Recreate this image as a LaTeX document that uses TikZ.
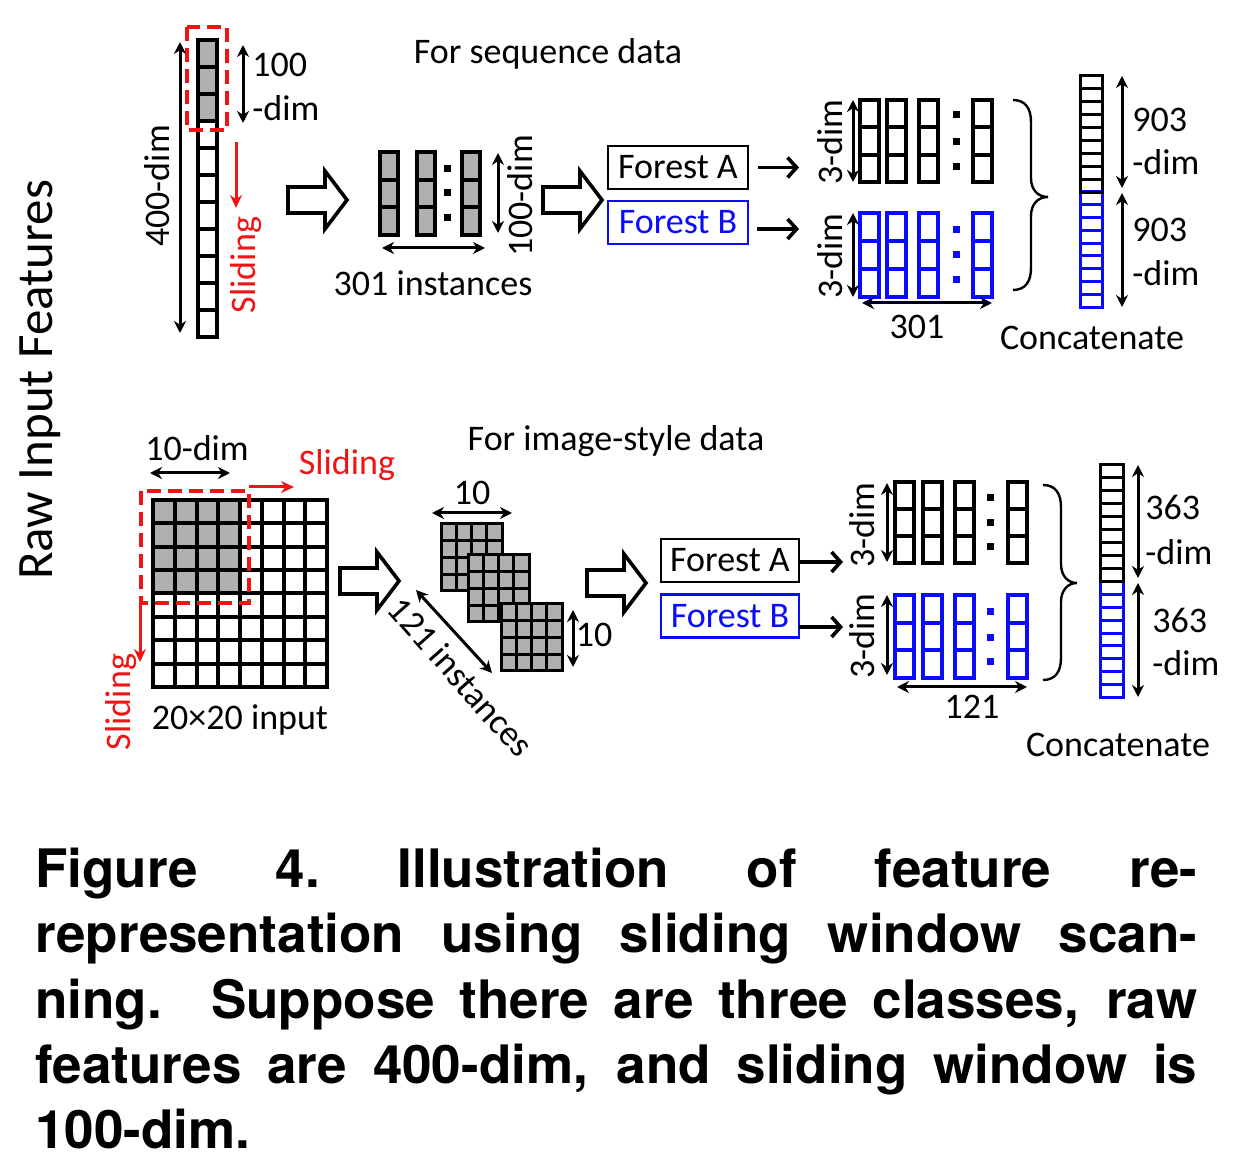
\documentclass[tikz,border=0pt]{standalone}
\usepackage{fontspec}
\setmainfont{Carlito}
\newfontfamily\capfont{TeX Gyre Heros}
\usetikzlibrary{arrows.meta}
\definecolor{cellgray}{RGB}{176,176,176}
\definecolor{fblue}{RGB}{10,10,255}
\definecolor{sred}{RGB}{240,20,20}
\newcommand\smallgrid[2]{%
  \fill[cellgray] (#1,#2) rectangle ++(61,67);
  \foreach \i in {0,...,4}{%
    \draw[line width=1.5pt] ({#1+\i*15.25},#2) -- ++(0,67);
    \draw[line width=1.5pt] (#1,{#2+\i*16.75}) -- ++(61,0);
  }
  \draw[line width=1.5pt] (#1,#2) rectangle ++(61,67);
}
\begin{document}
\begin{tikzpicture}[x=0.5pt,y=-0.5pt,
  every node/.style={inner sep=0pt, font=\fontsize{18}{22}\selectfont},
  cellline/.style={line width=2pt},
  thinline/.style={line width=1.5pt},
  dimarrow/.style={line width=1.5pt, {Stealth[length=6pt,width=6pt]}-{Stealth[length=6pt,width=6pt]}},
  slidearrow/.style={draw=sred, line width=1.5pt, -{Stealth[length=6.5pt,width=6pt]}},
  forestarrow/.style={line width=1.8pt, -{Straight Barb[length=4.5pt,width=10pt]}},
  redbox/.style={draw=sred, line width=2.2pt, dash pattern=on 7pt off 3.5pt},
  forestbox/.style={draw, line width=1.4pt, minimum height=21.5pt},
  bracestyle/.style={line width=1.2pt},
  redtext/.style={text=sred},
  capstyle/.style={anchor=base west, font=\capfont\bfseries\fontsize{26.5}{32.5}\selectfont},
  harrow/.pic={\draw[line width=1.8pt, fill=white] (0,-13) -- (37,-13) -- (37,-29) -- (59,0) -- (37,29) -- (37,13) -- (0,13) -- cycle;}
]
\useasboundingbox (0,0) rectangle (1244,1176);

% ---------------- left label
\node[rotate=90, font=\fontsize{25.5}{30}\selectfont] (raw) at (40,380) {Raw Input Features};

% ================= TOP: sequence data
\node (seqtitle) at (548,54) {For sequence data};

% strip
\foreach \k in {0,1,2}{\draw[cellline, fill=cellgray] (198,{40+\k*27}) rectangle ++(19,27);}
\foreach \k in {3,...,10}{\draw[cellline] (198,{40+\k*27}) rectangle ++(19,27);}
\draw[redbox] (187,27) rectangle (227,130);
\draw[dimarrow] (180,42) -- (180,333);
\node[rotate=90] (d400) at (157,186) {400-dim};
\draw[dimarrow] (243,45) -- (243,123);
\node[anchor=west] (d100a) at (252,65) {100};
\node[anchor=west] (d100b) at (252,108) {-dim};
\draw[slidearrow] (236,142) -- (236,208);
\node[rotate=90, redtext] (slide1) at (246,265) {Sliding};

\pic at (288,200) {harrow};

% instances
\foreach \x in {380,417,462}{\foreach \k in {0,1,2}{\draw[cellline, fill=cellgray] (\x,{152+\k*27.67}) rectangle ++(18,27.67);}}
\foreach \y in {169,193,218}{\fill ({447-3.5},{\y-3.5}) rectangle ++(7,7);}
\draw[dimarrow] (498,153) -- (498,233);
\node[rotate=90] (d100c) at (520,196) {100-dim};
\draw[dimarrow] (382,248) -- (485,248);
\node (inst301) at (433,283) {301 instances};

\pic at (543,200) {harrow};

% forests
\node[forestbox, minimum width=70pt] (fa) at (678,167.5) {Forest A};
\node[forestbox, minimum width=70pt, draw=fblue, text=fblue] (fb) at (678,222.5) {Forest B};
\coordinate (oA) at (799,167.5);
\coordinate (oB) at (799,229);
\draw[forestarrow, shorten <=4.5pt] (fa.east) -- (oA);
\draw[forestarrow] (757,229) -- (oB);

% outputs A
\foreach \x in {860,887,919,973}{\foreach \k in {0,1,2}{\draw[cellline] (\x,{100+\k*27.3}) rectangle ++(18.5,27.3);}}
\foreach \y in {115,142,167}{\fill ({956-3.5},{\y-3.5}) rectangle ++(7,7);}
\draw[dimarrow] (853,100) -- (853,182);
\node[rotate=90] (dA) at (830,142) {3-dim};
% outputs B
\foreach \x in {860,887,919,973}{\foreach \k in {0,1,2}{\draw[cellline, fblue] (\x,{213+\k*28}) rectangle ++(18.5,28);}}
\foreach \y in {230,255,280}{\fill[fblue] ({956-3.5},{\y-3.5}) rectangle ++(7,7);}
\draw[dimarrow] (853,213) -- (853,297);
\node[rotate=90] (dB) at (830,256) {3-dim};
\draw[dimarrow] (862,303) -- (992,303);
\node (n301) at (917,327) {301};

% brace
\draw[bracestyle] (1013,100) .. controls (1025,100) and (1031,108) .. (1031,122) -- (1031,178) .. controls (1031,190) and (1038,197) .. (1048,197) .. controls (1038,197) and (1031,204) .. (1031,216) -- (1031,268) .. controls (1031,282) and (1025,290) .. (1013,290);

% concat strip
\foreach \k in {0,...,8}{\draw[thinline, fblue] (1080,{192+\k*12.78}) rectangle ++(22,12.78);}
\foreach \k in {0,...,8}{\draw[thinline] (1080,{76+\k*12.89}) rectangle ++(22,12.89);}
\draw[dimarrow] (1122,76) -- (1122,188);
\draw[dimarrow] (1122,193) -- (1122,307);
\node[anchor=west] (c1a) at (1132,120) {903};
\node[anchor=west] (c1b) at (1132,162) {-dim};
\node[anchor=west] (c1c) at (1132,230) {903};
\node[anchor=west] (c1d) at (1132,273) {-dim};
\node (cat1) at (1092,338) {Concatenate};

% ================= BOTTOM: image-style data
\node (imgtitle) at (616,441) {For image-style data};

% grid
\fill[cellgray] (153,500) rectangle (240,593.5);
\foreach \i in {0,...,8}{%
  \draw[cellline] ({153+\i*21.75},500) -- ({153+\i*21.75},687);
  \draw[cellline] (153,{500+\i*23.375}) -- (327,{500+\i*23.375});
}
\draw[cellline] (153,500) rectangle (327,687);
\draw[redbox] (141,491) rectangle (249,603);
\draw[dimarrow] (150,473) -- (230,473);
\node (d10dim) at (197,448) {10-dim};
\draw[slidearrow] (249,487) -- (294,487);
\node[redtext] (slide2) at (347,465) {Sliding};
\draw[slidearrow] (140,603) -- (140,662);
\node[rotate=90, redtext] (slide3) at (121,702) {Sliding};
\node (inp) at (240,720) {20×20 input};

\pic at (340,581) {harrow};

% stacked instances
\smallgrid{441}{524}
\smallgrid{468}{555}
\smallgrid{501}{604}
\draw[dimarrow] (432,513) -- (512,513);
\node (n10a) at (472,493) {10};
\draw[dimarrow] (573,610) -- (573,667);
\node (n10b) at (594,635) {10};
\draw[dimarrow] (416,590) -- (492,673);
\node[rotate=-48.5] (inst121) at (461,677) {121 instances};

\pic at (587,583) {harrow};

% forests
\node[forestbox, minimum width=69pt] (fa2) at (730,560.5) {Forest A};
\node[forestbox, minimum width=69pt, draw=fblue, text=fblue] (fb2) at (730,616) {Forest B};
\coordinate (oA2) at (843,562);
\coordinate (oB2) at (843,627);
\draw[forestarrow] (799,562) -- (oA2);
\draw[forestarrow] (799,627) -- (oB2);

% outputs A
\foreach \x in {895,923,955,1008}{\foreach \k in {0,1,2}{\draw[cellline] (\x,{482+\k*27}) rectangle ++(19,27);}}
\foreach \y in {498,523,547}{\fill ({990-3.5},{\y-3.5}) rectangle ++(7,7);}
\draw[dimarrow] (887,483) -- (887,562);
\node[rotate=90] (dA2) at (862,525) {3-dim};
% outputs B
\foreach \x in {895,923,955,1008}{\foreach \k in {0,1,2}{\draw[cellline, fblue] (\x,{595+\k*27.7}) rectangle ++(19,27.7);}}
\foreach \y in {612,638,662}{\fill[fblue] ({990-3.5},{\y-3.5}) rectangle ++(7,7);}
\draw[dimarrow] (887,595) -- (887,675);
\node[rotate=90] (dB2) at (862,636) {3-dim};
\draw[dimarrow] (897,687) -- (1027,687);
\node (n121) at (972,707) {121};

% brace
\draw[bracestyle] (1043,485) .. controls (1055,485) and (1061,493) .. (1061,507) -- (1061,564) .. controls (1061,576) and (1068,583) .. (1077,583) .. controls (1068,583) and (1061,590) .. (1061,602) -- (1061,658) .. controls (1061,672) and (1055,680) .. (1043,680);

% concat strip
\foreach \k in {0,...,8}{\draw[thinline, fblue] (1100,{582+\k*12.78}) rectangle ++(23,12.78);}
\foreach \k in {0,...,8}{\draw[thinline] (1100,{465+\k*13}) rectangle ++(23,13);}
\draw[dimarrow] (1138,465) -- (1138,578);
\draw[dimarrow] (1138,583) -- (1138,697);
\node[anchor=west] (c2a) at (1145,507) {363};
\node[anchor=west] (c2b) at (1145,552) {-dim};
\node[anchor=west] (c2c) at (1152,620) {363};
\node[anchor=west] (c2d) at (1152,663) {-dim};
\node (cat2) at (1118,745) {Concatenate};

% ================= caption
\node[capstyle] (cap1) at (35,887) {\frenchspacing\makebox[581pt][s]{Figure 4. Illustration of feature re-}};
\node[capstyle] (cap2) at (35,952) {\makebox[581pt][s]{representation using sliding window scan-}};
\node[capstyle] (cap3) at (35,1018) {\makebox[581pt][s]{ning.\ \ Suppose there are three classes, raw}};
\node[capstyle] (cap4) at (35,1083) {\makebox[581pt][s]{features are 400-dim, and sliding window is}};
\node[capstyle] (cap5) at (35,1148) {100-dim.};
\end{tikzpicture}
\end{document}
